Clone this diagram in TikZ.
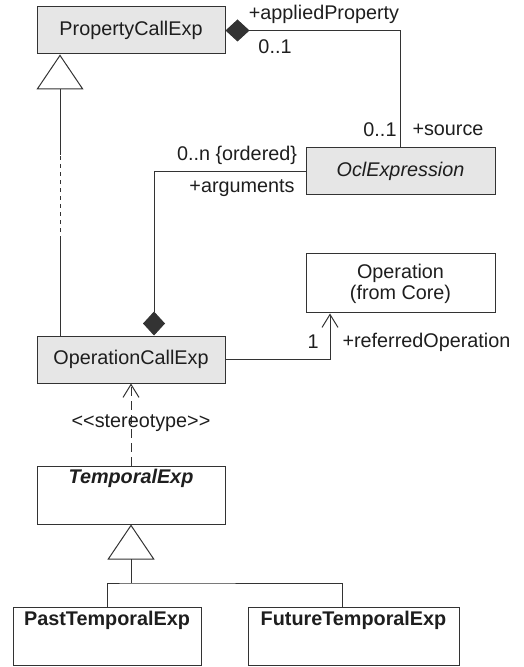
\documentclass[tikz,border=0pt]{standalone}
\usepackage{fontspec}
\setmainfont{Liberation Sans}
\usetikzlibrary{arrows.meta}
\definecolor{ln}{HTML}{333333}
\definecolor{tx}{HTML}{1E1E1E}
\definecolor{bg}{HTML}{E6E6E6}
\begin{document}
\begin{tikzpicture}[x=0.5pt,y=-0.5pt,
  font=\fontsize{9.9}{10.5}\selectfont,
  line width=0.5pt, draw=ln, text=tx,
  cls/.style={draw=ln, line width=0.5pt, inner sep=0pt, minimum width=#1, text=tx},
  gcls/.style={cls=#1, fill=bg},
  lbl/.style={inner sep=0pt, text=tx},
  comp/.style={{Diamond[length=12pt,width=11pt]}-},
  nav/.style={-{Straight Barb[length=6.5pt,width=8pt,line width=0.5pt]}},
  gen/.style={-{Triangle[open,length=17.5pt,width=23.5pt,line width=0.5pt]}},
]
\useasboundingbox (0,0) rectangle (523,667);

% classes
\node[gcls=94pt, minimum height=23.5pt] (pce) at (131,30.5) {PropertyCallExp};
\node[gcls=94.5pt, minimum height=23.5pt, font=\fontsize{9.9}{10.5}\selectfont\itshape] (ocl) at (400.5,171.5) {OclExpression};
\node[cls=94.5pt, minimum height=29.5pt, align=center] (op) at (400.5,283.5) {Operation\\(from Core)};
\node[gcls=94pt, minimum height=23.5pt] (oce) at (131,359.5) {OperationCallExp};
\node[cls=94pt, minimum height=29pt,
  label={[name=tmpt, anchor=north, yshift=-1.5pt, lbl, font=\fontsize{9.9}{10.5}\selectfont\bfseries\itshape]north:TemporalExp}] (tmp) at (131,495) {};
\node[cls=94pt, minimum height=29pt,
  label={[name=pastt, anchor=north, yshift=-2pt, lbl, font=\fontsize{9.9}{10.5}\selectfont\bfseries]north:PastTemporalExp}] (past) at (107,636) {};
\node[cls=105.5pt, minimum height=29pt,
  label={[name=futt, anchor=north, yshift=-2pt, lbl, font=\fontsize{9.9}{10.5}\selectfont\bfseries]north:FutureTemporalExp}] (fut) at (353.5,636) {};

% appliedProperty / source
\draw[comp] (pce.east) -| (ocl.north);
\node[lbl] (l1) at (324,14) {+appliedProperty};
\node[lbl] (l2) at (275,47) {0..1};
\node[lbl, anchor=east] (l3) at (397,130) {0..1};
\node[lbl, anchor=west] (l4) at (412,130) {+source};

% arguments
\coordinate (argtop) at ([xshift=11.5pt]oce.north);
\draw[comp] (argtop) |- (ocl.west);
\node[lbl] (l5) at (237,155) {0..n \{ordered\}};
\node[lbl] (l6) at (242,188) {+arguments};

% referredOperation
\coordinate (refend) at ([xshift=-35.25pt]op.south);
\draw[nav] (oce.east) -| (refend);
\node[lbl] (l7) at (313,342) {1};
\node[lbl, anchor=west] (l8) at (342,342) {+referredOperation};

% generalization OperationCallExp -> PropertyCallExp
\coordinate (gA) at ([xshift=-35.5pt]oce.north);
\coordinate (gD) at ([xshift=-35.5pt]pce.south);
\coordinate (gB) at (60,240);
\coordinate (gC) at (60,155);
\draw (gA) -- (gB);
\draw[dash pattern=on 2pt off 2pt] (gB) -- (gC);
\draw[gen] (gC) -- (gD);

% stereotype dependency
\draw[nav, dash pattern=on 4.5pt off 2.5pt] (tmp.north) -- (oce.south);
\node[lbl] (l9) at (141,423) {<\kern0pt<stereotype>\kern0pt>};

% generalization Past/Future -> TemporalExp
\coordinate (jn) at (131,583);
\draw (past.north) |- (jn) -| ([xshift=-5.75pt]fut.north);
\draw[gen] (jn) -- (tmp.south);
\end{tikzpicture}
\end{document}
